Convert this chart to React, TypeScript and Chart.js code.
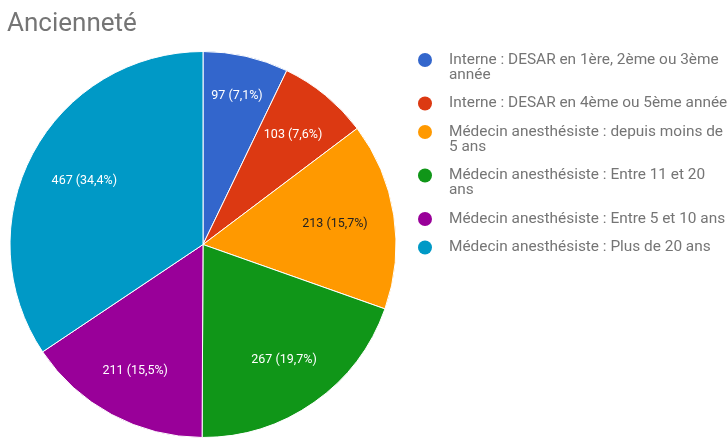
import React, { useEffect, useRef } from "react";
import { Chart, registerables } from "chart.js";

Chart.register(...registerables);

const TITLE = "Ancienneté";
const categories: string[][] = [
  ["Interne : DESAR en 1ère, 2ème ou 3ème", "année"],
  ["Interne : DESAR en 4ème ou 5ème année"],
  ["Médecin anesthésiste : depuis moins de", "5 ans"],
  ["Médecin anesthésiste : Entre 11 et 20", "ans"],
  ["Médecin anesthésiste : Entre 5 et 10 ans"],
  ["Médecin anesthésiste : Plus de 20 ans"],
];
const values: number[] = [97, 103, 213, 267, 211, 467];
const colors: string[] = ["#3366cc", "#dc3912", "#ff9900", "#109618", "#990099", "#0099c6"];
const labelColors: string[] = ["#ffffff", "#ffffff", "#222222", "#ffffff", "#ffffff", "#ffffff"];

const FONT = "Roboto, 'Noto Sans', Arial, sans-serif";

const overlayPlugin = {
  id: "overlay",
  afterDatasetsDraw(chart: any) {
    const ctx: CanvasRenderingContext2D = chart.ctx;
    const meta = chart.getDatasetMeta(0);
    const data: number[] = chart.data.datasets[0].data;
    const total = data.reduce((a, b) => a + b, 0);
    ctx.save();
    // slice labels: box placed so its outermost corner sits at 0.865 r
    ctx.font = `12.5px ${FONT}`;
    ctx.textAlign = "center";
    ctx.textBaseline = "middle";
    meta.data.forEach((arc: any, i: number) => {
      const p = arc.getProps(["x", "y", "startAngle", "endAngle", "outerRadius"], true);
      const mid = (p.startAngle + p.endAngle) / 2;
      const pct = ((data[i] / total) * 100).toFixed(1).replace(".", ",");
      const text = `${data[i]} (${pct}%)`;
      const hw = ctx.measureText(text).width / 2;
      const hh = 7;
      const ux = Math.cos(mid);
      const uy = Math.sin(mid);
      const cx = Math.sign(ux) * hw;
      const cy = Math.sign(uy) * hh;
      const R0 = p.outerRadius * 0.865;
      const uc = ux * cx + uy * cy;
      const d = -uc + Math.sqrt(uc * uc - (cx * cx + cy * cy) + R0 * R0);
      ctx.fillStyle = labelColors[i];
      ctx.fillText(text, p.x + ux * d, p.y + uy * d);
    });
    // title
    ctx.textAlign = "left";
    ctx.textBaseline = "alphabetic";
    ctx.font = `26px ${FONT}`;
    ctx.fillStyle = "#757575";
    ctx.fillText(TITLE, 7, 31);
    // legend
    const labels: string[][] = chart.data.labels;
    ctx.font = `15.4px ${FONT}`;
    ctx.textBaseline = "middle";
    let y = 60;
    labels.forEach((lines, i) => {
      ctx.fillStyle = colors[i];
      ctx.beginPath();
      ctx.arc(425, y, 7, 0, Math.PI * 2);
      ctx.fill();
      ctx.fillStyle = "#757575";
      lines.forEach((ln, j) => ctx.fillText(ln, 449, y + j * 15));
      y += 28.5 + 15 * (lines.length - 1);
    });
    ctx.restore();
  },
};

export default function App() {
  const ref = useRef<HTMLCanvasElement>(null);
  useEffect(() => {
    document.body.style.margin = "0";
    const chart = new Chart(ref.current!, {
      type: "pie",
      data: {
        labels: categories as any,
        datasets: [
          {
            data: values,
            backgroundColor: colors,
            borderColor: "#ffffff",
            borderWidth: 1,
          },
        ],
      },
      options: {
        animation: false,
        responsive: false,
        layout: { padding: { left: 9, right: 330, top: 51, bottom: -1 } },
        plugins: {
          legend: { display: false },
          tooltip: { enabled: false },
          title: { display: false },
        },
      },
      plugins: [overlayPlugin],
    });
    return () => chart.destroy();
  }, []);
  return (
    <div style={{ width: 727, height: 438, background: "#fff" }}>
      <canvas ref={ref} width={727} height={438} />
    </div>
  );
}
